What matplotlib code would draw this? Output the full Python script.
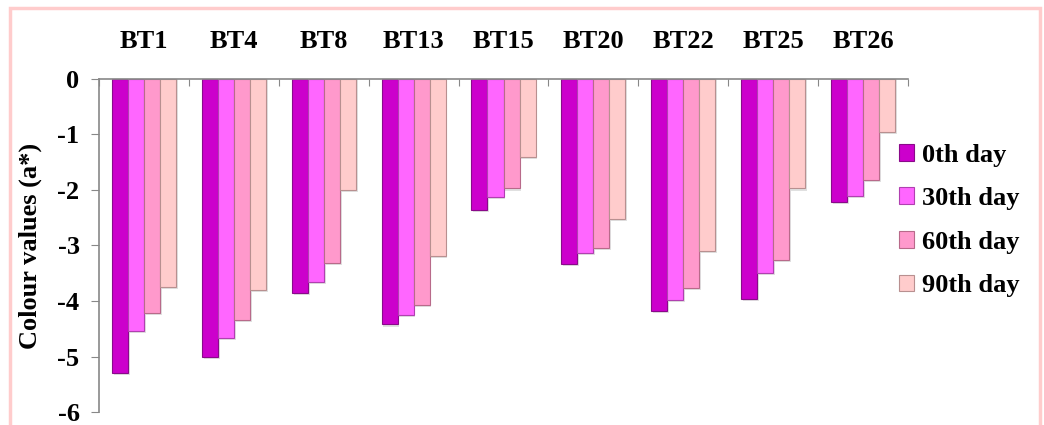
import numpy as np
import matplotlib.pyplot as plt
from matplotlib.patches import Rectangle

# Data
samples = ['BT1', 'BT4', 'BT8', 'BT13', 'BT15', 'BT20', 'BT22', 'BT25', 'BT26']
day0 = [-5.30, -5.00, -3.86, -4.42, -2.36, -3.33, -4.18, -3.96, -2.22]
day30 = [-4.54, -4.67, -3.65, -4.25, -2.13, -3.14, -3.98, -3.49, -2.11]
day60 = [-4.21, -4.34, -3.32, -4.07, -1.97, -3.05, -3.77, -3.26, -1.82]
day90 = [-3.74, -3.80, -2.00, -3.19, -1.40, -2.52, -3.10, -1.97, -0.95]
series_names = ['0th day', '30th day', '60th day', '90th day']
y_ticks = [0, -1, -2, -3, -4, -5, -6]

colors = ['#CC00CC', '#FF66FF', '#FF99CC', '#FFCCCC']
edges = ['#8A0A8A', '#B040B0', '#B86A8A', '#B89090']

serif = ['Liberation Serif', 'DejaVu Serif']
fs = 19

fig = plt.figure(figsize=(10.44, 4.25), dpi=100)
# pink frame around the chart area
fig.patches.append(Rectangle((10 / 1044, -0.05), 1030 / 1044, 1 - 8 / 425 + 0.05,
                             transform=fig.transFigure, fill=False,
                             edgecolor='#FFCCCC', linewidth=2.5))

ax = fig.add_axes([99 / 1044, 1 - 412 / 425, (908 - 99) / 1044, (412 - 79) / 425])

x = np.arange(len(samples))
w = 0.178
all_series = [day0, day30, day60, day90]
for i, vals in enumerate(all_series):
    xs = x + (i - 1.5) * w
    # soft shadow under each bar
    ax.bar(xs + 0.02, np.array(vals) - 0.04, w, color='#000000', alpha=0.12,
           linewidth=0, zorder=1)
    ax.bar(xs, vals, w, color=colors[i], edgecolor=edges[i], linewidth=0.8,
           label=series_names[i], zorder=2)

ax.set_xlim(-0.5, len(samples) - 0.5)
ax.set_ylim(-6, 0)

# x axis sits on top at y=0
ax.xaxis.tick_top()
ax.set_xticks(np.arange(len(samples) + 1) - 0.5)
ax.set_xticklabels([])
ax.set_xticks(x, minor=True)
ax.set_xticklabels(samples, minor=True, fontfamily=serif, fontweight='bold',
                   fontsize=fs)
ax.tick_params(axis='x', which='major', direction='in', length=5,
               color='#888888', top=True, bottom=False)
ax.tick_params(axis='x', which='minor', length=0, pad=19, top=True, bottom=False)

ax.set_yticks(y_ticks)
ax.set_yticklabels([str(t) for t in y_ticks], fontfamily=serif,
                   fontweight='bold', fontsize=fs)
ax.tick_params(axis='y', direction='out', length=6, color='#888888', pad=8)

for s in ['right', 'bottom']:
    ax.spines[s].set_visible(False)
ax.spines['left'].set_color('#888888')
ax.spines['top'].set_color('#888888')
ax.spines['left'].set_linewidth(1.2)
ax.spines['top'].set_linewidth(1.2)

ax.set_ylabel('Colour values (a*)', fontfamily=serif, fontweight='bold',
              fontsize=fs, labelpad=11)

handles, labels = ax.get_legend_handles_labels()
handles = [h for h in handles if h.get_label() in series_names]
leg = fig.legend(handles, series_names, loc='upper left',
                 bbox_to_anchor=(888 / 1044, 1 - 133 / 425), frameon=False,
                 prop={'family': serif, 'weight': 'bold', 'size': fs},
                 handlelength=0.6, handleheight=0.6, handletextpad=0.3,
                 labelspacing=0.78, borderaxespad=0)

fig.savefig('out.png', dpi=100)
